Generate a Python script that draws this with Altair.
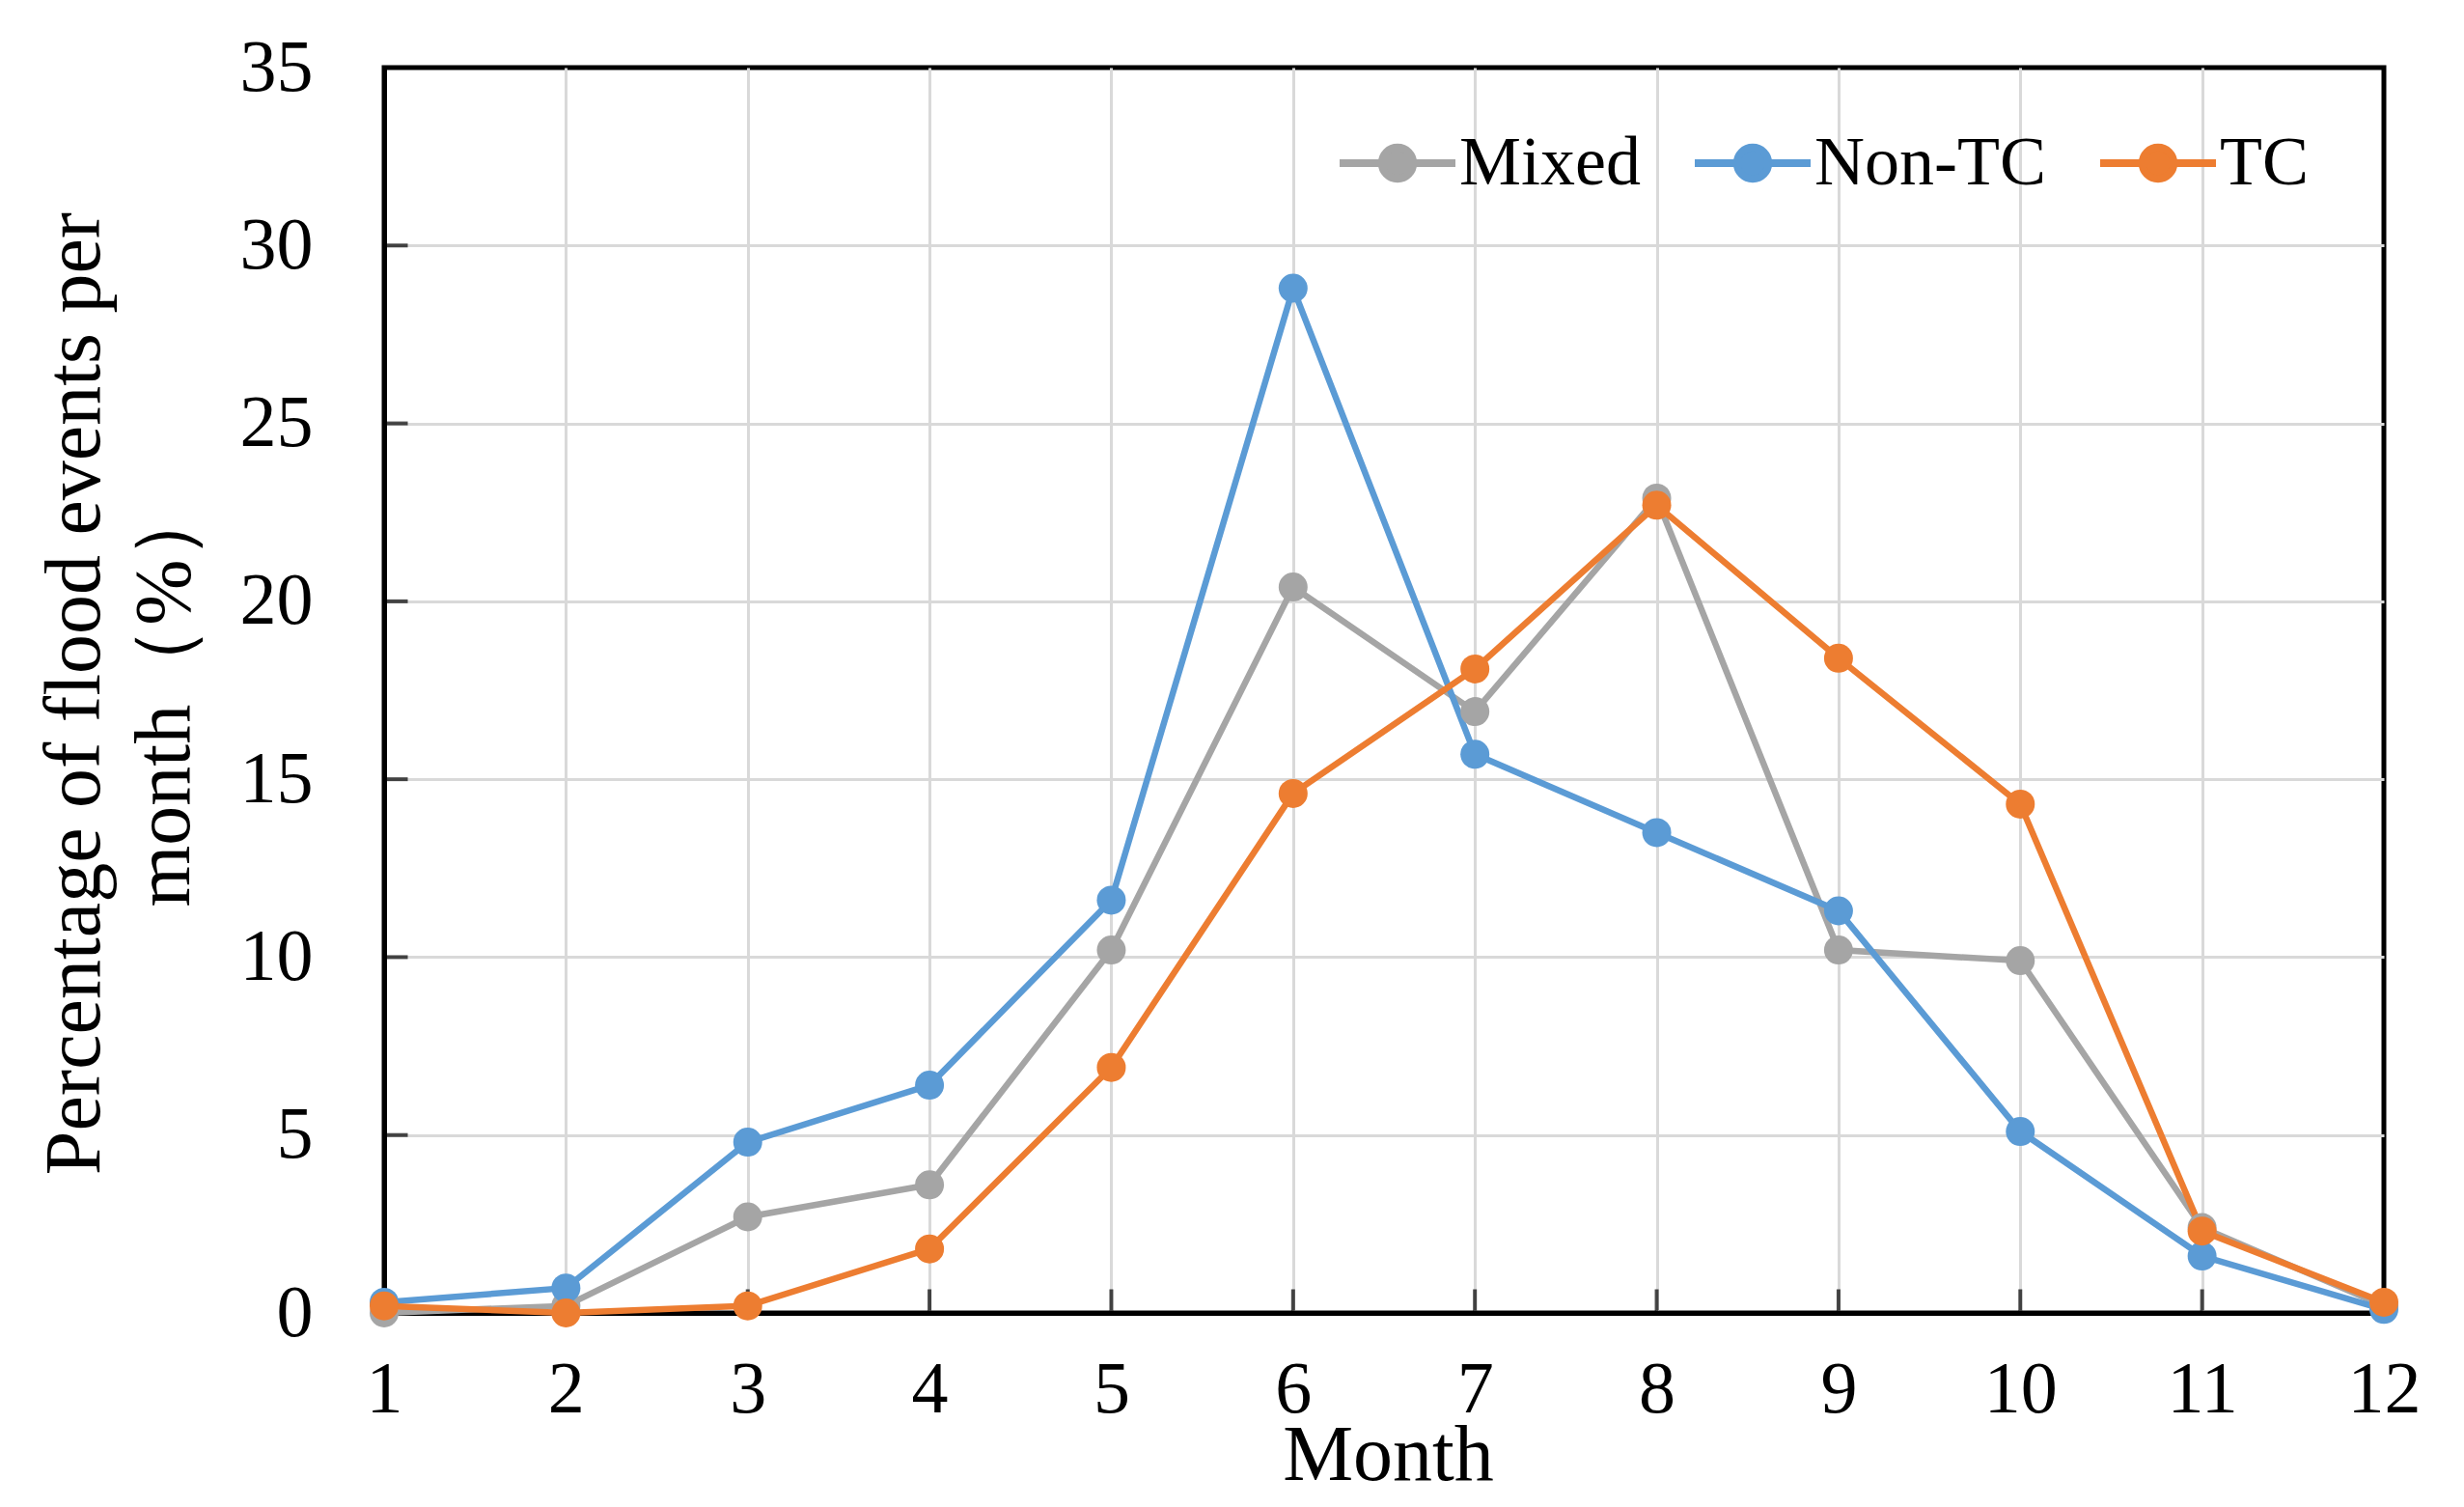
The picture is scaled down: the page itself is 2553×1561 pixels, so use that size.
import altair as alt
import pandas as pd

months = list(range(1, 13))
mixed = [0.0, 0.2, 2.7, 3.6, 10.2, 20.4, 16.9, 22.9, 10.2, 9.9, 2.4, 0.2]
non_tc = [0.3, 0.7, 4.8, 6.4, 11.6, 28.8, 15.7, 13.5, 11.3, 5.1, 1.6, 0.1]
tc = [0.2, 0.0, 0.2, 1.8, 6.9, 14.6, 18.1, 22.7, 18.4, 14.3, 2.3, 0.3]
series = ["Mixed", "Non-TC", "TC"]
colors = ["#A5A5A5", "#5B9BD5", "#ED7D31"]
y_ticks = [0, 5, 10, 15, 20, 25, 30, 35]

rows = []
for name, vals in zip(series, [mixed, non_tc, tc]):
    for m, v in zip(months, vals):
        rows.append({"month": m, "value": v, "series": name})
df = pd.DataFrame(rows)
xt = pd.DataFrame({"month": months})
yt = pd.DataFrame({"val": y_ticks})

FONT = "Liberation Serif"
W, H = 2072, 1290

x_enc = alt.X("month:Q", scale=alt.Scale(domain=[1, 12], nice=False, zero=False),
              axis=alt.Axis(values=months, format="d", title="Month",
                            titleX=1040, titleY=172, titleBaseline="alphabetic",
                            labelPadding=42, labelFlush=False, grid=True,
                            gridOpacity={"condition": {"test": "datum.value == 1 || datum.value == 12", "value": 0}, "value": 1}))
y_enc = alt.Y("value:Q", scale=alt.Scale(domain=[0, 35], nice=False),
              axis=alt.Axis(values=y_ticks, title=["Percentage  of flood events per", "month（%）"],
                            titleX=-321, titleY=648, titleAngle=-90, titleAlign="center",
                            titleBaseline="middle", titleLineHeight=93,
                            labelPadding=74, labelFlush=False, grid=True,
                            gridOpacity={"condition": {"test": "datum.value == 0 || datum.value == 35", "value": 0}, "value": 1}))

path = "M-1,0H1M-0.27,0A0.27,0.27,0,1,1,0.27,0A0.27,0.27,0,1,1,-0.27,0Z"

lines = alt.Chart(df).mark_line(
    strokeWidth=6.5,
    point=alt.OverlayMarkDef(filled=True, size=900, opacity=1),
).encode(
    x=x_enc,
    y=y_enc,
    color=alt.Color("series:N", scale=alt.Scale(domain=series, range=colors),
                    legend=alt.Legend(title=None, orient="none", direction="horizontal",
                                      legendX=986, legendY=35,
                                      symbolType=path, symbolSize=14400,
                                      symbolStrokeWidth=8, labelFontSize=72,
                                      labelFont=FONT, labelOffset=0, labelLimit=0,
                                      columnPadding=40, padding=0)),
    order="month:Q",
)

xticks = alt.Chart(xt).mark_tick(orient="vertical", size=25, thickness=4,
                                 color="black", yOffset=-12).encode(
    x="month:Q", y=alt.datum(0))
yticks = alt.Chart(yt).mark_tick(orient="horizontal", size=25, thickness=4,
                                 color="black", xOffset=12).encode(
    x=alt.datum(1), y="val:Q")

chart = alt.layer(xticks, yticks, lines).properties(
    width=W, height=H,
    autosize=alt.AutoSizeParams(type="none"),
    padding={"left": 390, "top": 62, "right": 75, "bottom": 193},
).configure_view(
    stroke="black", strokeWidth=5
).configure_axis(
    labelFont=FONT, titleFont=FONT, labelFontSize=76, titleFontSize=82,
    labelColor="black", titleColor="black", titleFontWeight="normal",
    domain=True, domainColor="black", domainWidth=5,
    ticks=False, gridColor="#D9D9D9", gridWidth=3,
)

chart.save("out.html", embed_options={"renderer": "svg", "actions": False})
